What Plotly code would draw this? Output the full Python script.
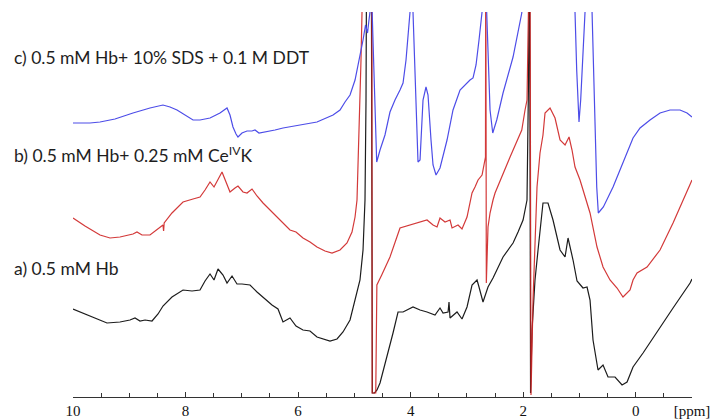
import plotly.graph_objects as go

# a) 0.5 mM Hb
ppm_a = [10.000, 9.698, 9.396, 9.165, 8.987, 8.898, 8.809, 8.720, 8.596, 8.489,
         8.401, 8.241, 8.045, 7.885, 7.743, 7.654, 7.565, 7.494, 7.423, 7.334,
         7.263, 7.174, 7.086, 6.997, 6.854, 6.730, 6.588, 6.464, 6.357, 6.268,
         6.144, 6.037, 5.913, 5.788, 5.664, 5.522, 5.433, 5.308, 5.202, 5.077,
         4.988, 4.900, 4.846, 4.811, 4.793, 4.780, 4.700, 4.680, 4.642, 4.598,
         4.544, 4.420, 4.313, 4.224, 4.135, 3.958, 3.833, 3.709, 3.567, 3.478,
         3.424, 3.335, 3.318, 3.300, 3.176, 3.087, 2.998, 2.909, 2.820, 2.785,
         2.714, 2.625, 2.536, 2.358, 2.180, 2.091, 2.002, 1.932, 1.905, 1.887,
         1.869, 1.843, 1.790, 1.736, 1.701, 1.648, 1.559, 1.470, 1.345, 1.256,
         1.203, 1.114, 1.043, 0.937, 0.865, 0.812, 0.759, 0.670, 0.581, 0.492,
         0.368, 0.243, 0.154, 0.048, -0.130, -0.432, -0.663, -0.966, -1.000]
int_a = [88, 81, 74, 75, 77, 79, 76, 77, 76, 83,
         91, 100, 107, 106, 107, 116, 123, 117, 128, 122,
         114, 121, 113, 113, 112, 105, 98, 92, 88, 75,
         79, 71, 67, 66, 60, 58, 56, 58, 65, 77,
         97, 117, 147, 197, 297, 480, 480, 4, 4, 7,
         14, 40, 64, 85, 85, 90, 87, 85, 82, 89,
         84, 85, 95, 79, 85, 78, 90, 112, 117, 110,
         95, 110, 119, 140, 154, 165, 177, 197, 317, 480,
         4, 67, 117, 147, 167, 194, 194, 177, 147, 140,
         159, 137, 116, 109, 110, 97, 57, 27, 32, 20,
         20, 12, 15, 30, 44, 70, 89, 114, 118]

# b) 0.5 mM Hb + 0.25 mM Ce(IV)K
ppm_b = [10.000, 9.787, 9.520, 9.342, 9.165, 8.934, 8.863, 8.774, 8.632, 8.507,
         8.401, 8.390, 8.380, 8.241, 8.045, 7.867, 7.743, 7.654, 7.565, 7.494,
         7.423, 7.352, 7.281, 7.210, 7.121, 7.068, 6.979, 6.908, 6.819, 6.730,
         6.623, 6.499, 6.375, 6.268, 6.144, 6.037, 5.913, 5.788, 5.664, 5.522,
         5.397, 5.255, 5.131, 5.042, 4.988, 4.953, 4.917, 4.882, 4.864, 4.860,
         4.690, 4.684, 4.620, 4.600, 4.514, 4.367, 4.189, 4.011, 3.869, 3.709,
         3.602, 3.531, 3.478, 3.389, 3.300, 3.264, 3.158, 3.087, 2.998, 2.909,
         2.856, 2.802, 2.731, 2.696, 2.670, 2.665, 2.655, 2.625, 2.589, 2.536,
         2.500, 2.233, 2.025, 1.967, 1.932, 1.880, 1.861, 1.825, 1.790, 1.754,
         1.701, 1.648, 1.612, 1.523, 1.434, 1.345, 1.256, 1.185, 1.132, 1.079,
         0.990, 0.901, 0.812, 0.688, 0.581, 0.457, 0.332, 0.226, 0.101, 0.048,
         -0.023, -0.201, -0.432, -0.663, -1.000]
int_b = [179, 171, 162, 159, 160, 163, 165, 162, 162, 167,
         172, 166, 174, 184, 195, 198, 200, 207, 215, 210,
         218, 225, 215, 205, 209, 211, 205, 204, 208, 201,
         194, 187, 180, 173, 167, 165, 159, 155, 150, 146,
         144, 147, 154, 165, 180, 197, 257, 337, 385, 480,
         480, 4, 4, 112, 122, 140, 169, 172, 175, 177,
         172, 170, 179, 175, 177, 169, 172, 168, 180, 204,
         210, 217, 222, 232, 240, 480, 114, 170, 184, 197,
         204, 240, 267, 287, 297, 480, 2, 97, 157, 210,
         244, 262, 284, 289, 279, 257, 252, 260, 247, 230,
         217, 200, 184, 150, 130, 117, 109, 100, 107, 117,
         124, 130, 147, 174, 217]

# c) 0.5 mM Hb + 10% SDS + 0.1 M DDT
ppm_c = [10.000, 9.698, 9.520, 9.254, 8.934, 8.632, 8.401, 8.276, 8.152, 8.010,
         7.867, 7.743, 7.565, 7.388, 7.263, 7.210, 7.157, 7.103, 7.068, 6.997,
         6.908, 6.819, 6.766, 6.695, 6.588, 6.410, 6.268, 5.966, 5.664, 5.379,
         5.255, 5.166, 5.077, 4.988, 4.935, 4.882, 4.846, 4.802, 4.766, 4.740,
         4.722, 4.715, 4.700, 4.692, 4.603, 4.544, 4.456, 4.367, 4.278, 4.189,
         4.135, 4.082, 4.047, 4.011, 3.990, 3.970, 3.958, 3.887, 3.869, 3.833,
         3.780, 3.727, 3.691, 3.638, 3.602, 3.549, 3.478, 3.353, 3.247, 3.122,
         3.034, 2.945, 2.891, 2.838, 2.785, 2.749, 2.731, 2.700, 2.670, 2.648,
         2.589, 2.541, 2.470, 2.358, 2.180, 2.025, 1.980, 1.100, 1.079, 1.049,
         1.020, 1.008, 0.978, 0.932, 0.901, 0.870, 0.800, 0.776, 0.753, 0.723,
         0.693, 0.665, 0.575, 0.403, 0.279, 0.154, 0.048, -0.077, -0.254, -0.432,
         -0.610, -0.787, -0.912, -1.000]
int_c = [274, 274, 275, 278, 284, 289, 292, 290, 287, 282,
         277, 277, 279, 284, 289, 282, 270, 263, 260, 264,
         266, 266, 267, 264, 265, 267, 269, 272, 275, 282,
         287, 295, 302, 317, 332, 345, 357, 372, 364, 377,
         385, 480, 480, 400, 235, 247, 262, 285, 297, 307,
         314, 337, 357, 385, 480, 480, 385, 257, 235, 237,
         297, 310, 302, 257, 232, 222, 229, 257, 287, 307,
         312, 317, 319, 332, 357, 377, 385, 480, 480, 384,
         287, 264, 277, 304, 340, 384, 480, 480, 385, 327,
         275, 275, 297, 347, 385, 480, 480, 385, 330, 264,
         210, 184, 190, 210, 227, 244, 259, 269, 277, 284,
         287, 287, 284, 280]

tick_vals = [10, 8, 6, 4, 2, 0, -1]
tick_text = ["10", "8", "6", "4", "2", "0", "[ppm]"]

labels = [
    ("c) 0.5 mM Hb+ 10% SDS + 0.1 M DDT", 0.883),
    ("b) 0.5 mM Hb+ 0.25 mM Ce<sup>IV</sup>K", 0.629),
    ("a) 0.5 mM Hb", 0.335),
]

fig = go.Figure()
fig.add_trace(go.Scatter(x=ppm_a, y=int_a, mode="lines",
                         line=dict(color="#1c1c1c", width=1.2)))
fig.add_trace(go.Scatter(x=ppm_b, y=int_b, mode="lines",
                         line=dict(color="#cf2424", width=1.2), opacity=0.9))
fig.add_trace(go.Scatter(x=ppm_c, y=int_c, mode="lines",
                         line=dict(color="#4d4de8", width=1.2)))

for text, ypos in labels:
    fig.add_annotation(text=text, xref="paper", yref="paper",
                       x=-0.0985, y=ypos, xanchor="left", yanchor="middle",
                       showarrow=False,
                       font=dict(family="Lato", size=17.5, color="#1e1e1e"))

fig.update_layout(
    width=713, height=419,
    margin=dict(l=73, r=21, t=12, b=22, autoexpand=False),
    paper_bgcolor="white", plot_bgcolor="white",
    showlegend=False,
    xaxis=dict(
        range=[10, -1], showgrid=False, zeroline=False, automargin=False,
        showline=True, linecolor="#333333", linewidth=1,
        tickmode="array", tickvals=tick_vals, ticktext=tick_text,
        ticks="inside", ticklen=5, tickcolor="#333333",
        minor=dict(tickmode="linear", tick0=0, dtick=0.5,
                   ticks="inside", ticklen=4, tickcolor="#333333"),
        tickfont=dict(family="Liberation Serif", size=15, color="#111111"),
    ),
    yaxis=dict(range=[0, 385], visible=False, fixedrange=True,
               automargin=False),
)

fig.write_html("out.html")
